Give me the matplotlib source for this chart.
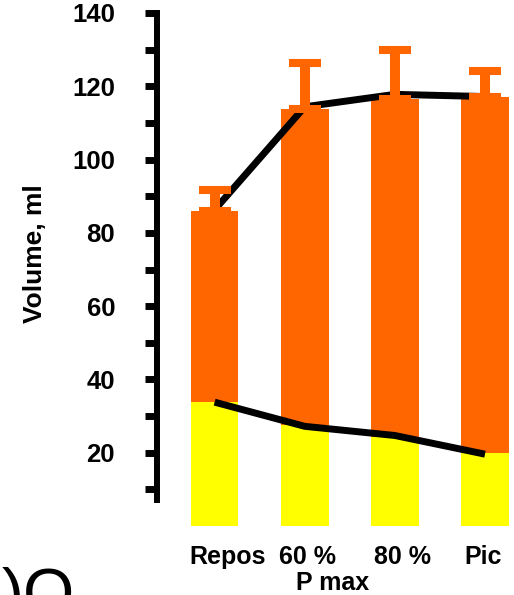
import matplotlib
matplotlib.use("Agg")
import matplotlib.pyplot as plt
import matplotlib.transforms as mtransforms

plt.rcParams["font.family"] = ["Liberation Sans", "DejaVu Sans"]
plt.rcParams["font.weight"] = "bold"

# Stroke volume components at each exercise level
categories = ["Repos", "60 %", "80 %", "Pic"]
end_systolic = [33.8, 27.6, 24.3, 19.9]        # yellow segment
end_diastolic = [86.1, 113.8, 116.6, 117.1]    # total bar height
diastolic_sd = [5.6, 12.5, 13.3, 7.0]          # upper error bars
upper_trend = [86.3, 114.4, 117.8, 117.2]
lower_trend = [33.8, 27.2, 24.7, 19.6]
y_ticks = [20, 40, 60, 80, 100, 120, 140]
y_minor = [10, 30, 50, 70, 90, 110, 130]
subtitle = "P max"

ORANGE = "#FF6600"
YELLOW = "#FFFF00"

W, H = 514, 595
fig = plt.figure(figsize=(W / 100, H / 100), dpi=100)
ax = fig.add_axes([157.3 / W, 69 / H, (W - 157.3) / W, 513 / H])

x = list(range(len(categories)))
width = 0.528
stroke = [d - s for d, s in zip(end_diastolic, end_systolic)]

ax.bar(x, end_systolic, width=width, color=YELLOW, zorder=1)
ax.bar(x, stroke, width=width, bottom=end_systolic, color=ORANGE, zorder=1)

ax.plot(x, upper_trend, color="black", lw=5, solid_capstyle="butt",
        solid_joinstyle="miter", zorder=3)
ax.plot(x, lower_trend, color="black", lw=5, solid_capstyle="butt",
        solid_joinstyle="miter", zorder=3)

ax.errorbar(x, end_diastolic, yerr=[[0] * len(x), diastolic_sd], fmt="none",
            ecolor=ORANGE, elinewidth=7.2, capsize=11.2, capthick=5.8, zorder=4)

ax.set_xlim(-0.636, 3.322)
ax.set_ylim(0, 140)

for side in ("top", "right", "bottom"):
    ax.spines[side].set_visible(False)
ax.spines["left"].set_linewidth(4.3)
ax.spines["left"].set_bounds(7, 140)

ax.set_xticks([])
ax.set_yticks(y_ticks)
ax.set_yticklabels([str(v) for v in y_ticks])
ax.set_yticks(y_minor, minor=True)
ax.tick_params(axis="y", which="both", direction="out", length=8.4, width=5,
               color="black")
ax.tick_params(axis="y", which="major", pad=22, labelsize=18.5)

# Category labels under the bars
label_shift = [0.139, 0.033, 0.089, -0.022]
trans = mtransforms.blended_transform_factory(ax.transData, ax.transAxes)
for xi, name, dx in zip(x, categories, label_shift):
    ax.text(xi + dx, -0.0604, name, transform=trans, ha="center",
            va="center", fontsize=18, fontweight="bold")
ax.text(1.31, -0.111, subtitle, transform=trans, ha="center", va="center",
        fontsize=18, fontweight="bold")

fig.text(35 / W, 1 - 253.5 / H, "Volume, ml", rotation=90, ha="center",
         va="center", fontsize=19, fontweight="bold")

# Edge of a neighbouring caption running off the lower-left corner
fig.text(2 / W, (H - 615) / H, ")O", ha="left", va="baseline",
         fontsize=47.5, fontweight="normal", family="Liberation Sans")

fig.savefig("out.png", dpi=100)
